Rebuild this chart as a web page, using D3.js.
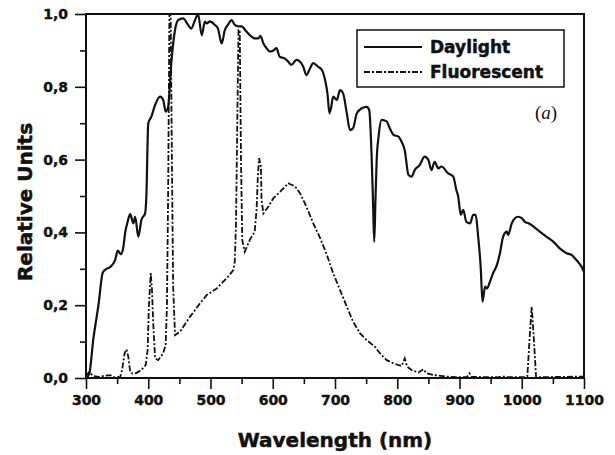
<!DOCTYPE html>
<html>
<head>
<meta charset="utf-8">
<script src="https://d3js.org/d3.v7.min.js"></script>
<style>
  body { margin: 0; background: #fff; }
  svg { display: block; }
  .axis text { font-family: "DejaVu Sans", sans-serif; font-weight: bold; font-size: 14px; fill: #111; stroke: #111; stroke-width: 0.4; }
  .axis line { stroke: #111; stroke-width: 1.6; }
  .heavy { font-family: "DejaVu Sans", sans-serif; font-weight: bold; fill: #111; stroke: #111; stroke-width: 0.5; }
</style>
</head>
<body>
<script>
// wavelength (nm) / relative units
var daylightNm = [300,305,312,320,327,333,339,347,351,356,360,363,367,371,376,379,384,389,395,397,
  400,405,411,419,424,428,432,437,443,448,456,464,469,475,480,486,491,494,499,507,
  512,518,523,528,534,539,545,550,558,566,571,577,580,585,590,595,601,606,611,619,
  625,630,638,644,649,654,660,665,673,679,684,688,691,694,697,703,708,713,719,724,
  729,735,743,751,755,759,761,763,765,767,770,775,783,788,794,802,807,812,818,823,
  828,836,844,850,855,860,866,871,882,890,895,898,902,906,911,917,922,926,930,934,
  937,941,944,949,954,960,965,970,976,978,984,989,994,1000,1005,1011,1019,1029,1040,1051,
  1061,1072,1080,1088,1096,1100];
var daylightVal = [0.00,0.01,0.11,0.20,0.29,0.30,0.305,0.325,0.35,0.34,0.36,0.40,0.43,0.45,0.425,0.443,0.388,0.434,0.453,0.50,
  0.70,0.718,0.75,0.773,0.764,0.732,0.745,0.865,0.956,0.983,0.988,0.97,0.96,0.983,1.0,0.942,0.979,0.974,0.98,0.97,
  0.96,0.919,0.956,0.97,0.983,0.97,0.966,0.966,0.951,0.938,0.933,0.933,0.94,0.919,0.906,0.897,0.90,0.906,0.883,0.878,
  0.869,0.86,0.874,0.869,0.855,0.832,0.851,0.865,0.855,0.846,0.819,0.78,0.727,0.745,0.773,0.764,0.791,0.782,0.727,0.681,
  0.686,0.727,0.741,0.745,0.736,0.60,0.489,0.374,0.49,0.60,0.663,0.709,0.705,0.686,0.668,0.663,0.649,0.626,0.558,0.553,
  0.571,0.585,0.608,0.599,0.571,0.594,0.576,0.581,0.562,0.553,0.516,0.498,0.448,0.462,0.429,0.425,0.448,0.448,0.388,0.306,
  0.21,0.251,0.246,0.265,0.288,0.31,0.343,0.388,0.402,0.393,0.425,0.439,0.443,0.439,0.429,0.425,0.416,0.402,0.388,0.374,
  0.356,0.343,0.338,0.324,0.306,0.292];

var fluorNm = [300,303,306,309,312,320,330,339,345,355,358,362,365,368,371,375,380,389,396,399,
  401,404,406,408,411,416,424,428,430,432,434,436,438,440,443,451,467,483,494,510,
  526,537,539,541,543,545,547,549,551,555,563,571,574,576,578,581,582,585,593,601,
  612,625,636,644,654,665,676,687,697,708,719,729,740,751,764,772,783,794,807,812,
  816,823,834,842,847,858,879,900,912,916,920,960,970,980,1005,1009,1013,1016,1019,1023,
  1060,1100];
var fluorVal = [0.005,0.013,0.017,0.01,0.005,0.003,0.006,0.008,0.002,0.003,0.022,0.068,0.079,0.058,0.017,0.012,0.013,0.022,0.036,0.077,
  0.196,0.288,0.242,0.15,0.054,0.049,0.068,0.091,0.196,0.516,1.0,1.0,0.6,0.25,0.118,0.127,0.168,0.205,0.228,0.246,
  0.274,0.297,0.32,0.425,0.7,0.956,0.956,0.6,0.379,0.347,0.379,0.402,0.462,0.55,0.604,0.58,0.489,0.452,0.471,0.494,
  0.512,0.535,0.526,0.507,0.471,0.425,0.385,0.338,0.288,0.242,0.196,0.155,0.123,0.104,0.086,0.068,0.049,0.04,0.033,0.054,
  0.031,0.022,0.015,0.024,0.013,0.008,0.004,0.002,0.003,0.013,0.003,0.002,0.004,0.002,0.002,0.005,0.12,0.196,0.12,0.002,
  0.003,0.004];

var xTicks = [300,400,500,600,700,800,900,1000,1100];
var yTicks = [0,0.2,0.4,0.6,0.8,1.0];
var seriesNames = ["Daylight", "Fluorescent"];

var w = 615, h = 455;
var plotLeft = 86, plotRight = 584, plotTop = 14, plotBottom = 378;

var svg = d3.select("body").append("svg")
  .attr("width", w)
  .attr("height", h);

var x = d3.scaleLinear().domain([300, 1100]).range([plotLeft, plotRight]);
var y = d3.scaleLinear().domain([0, 1]).range([plotBottom, plotTop]);

var comma = d3.formatLocale({decimal: ",", thousands: ".", grouping: [3], currency: ["", ""]}).format(".1f");

// minor ticks
svg.append("g").attr("class", "axis")
  .attr("transform", "translate(0," + plotBottom + ")")
  .call(d3.axisBottom(x).tickValues(d3.range(350, 1100, 100)).tickSize(6).tickFormat(""))
  .call(function(g){ g.select(".domain").remove(); });
svg.append("g").attr("class", "axis")
  .attr("transform", "translate(" + plotLeft + ",0)")
  .call(d3.axisLeft(y).tickValues([0.1,0.3,0.5,0.7,0.9]).tickSize(6).tickFormat(""))
  .call(function(g){ g.select(".domain").remove(); });

// major ticks
svg.append("g").attr("class", "axis")
  .attr("transform", "translate(0," + plotBottom + ")")
  .call(d3.axisBottom(x).tickValues(xTicks).tickSize(11).tickPadding(6).tickFormat(d3.format("d")))
  .call(function(g){ g.select(".domain").remove(); });
svg.append("g").attr("class", "axis")
  .attr("transform", "translate(" + plotLeft + ",0)")
  .call(d3.axisLeft(y).tickValues(yTicks).tickSize(11).tickPadding(7).tickFormat(comma))
  .call(function(g){ g.select(".domain").remove(); });

// frame
svg.append("rect")
  .attr("x", plotLeft).attr("y", plotTop)
  .attr("width", plotRight - plotLeft).attr("height", plotBottom - plotTop)
  .style("fill", "none")
  .style("stroke", "#111")
  .style("stroke-width", 2);

var line = d3.line()
  .x(function(d){ return x(d[0]); })
  .y(function(d){ return y(d[1]); });

var daylight = daylightNm.map(function(d, i){ return [d, daylightVal[i]]; });
var fluor = fluorNm.map(function(d, i){ return [d, fluorVal[i]]; });

svg.append("path")
  .datum(fluor)
  .attr("d", line)
  .style("fill", "none")
  .style("stroke", "#111")
  .style("stroke-width", 1.8)
  .style("stroke-dasharray", "6,2,2,2");

svg.append("path")
  .datum(daylight)
  .attr("d", line.curve(d3.curveMonotoneX))
  .style("fill", "none")
  .style("stroke", "#111")
  .style("stroke-width", 2.2)
  .style("stroke-linejoin", "round");

// legend
var legend = svg.append("g");
legend.append("rect")
  .attr("x", 357).attr("y", 30)
  .attr("width", 207).attr("height", 57)
  .style("fill", "#fff")
  .style("stroke", "#111")
  .style("stroke-width", 1.5);

legend.selectAll("line")
  .data(seriesNames)
  .enter()
  .append("line")
  .attr("x1", 364).attr("x2", 422)
  .attr("y1", function(d, i){ return 47 + i * 25; })
  .attr("y2", function(d, i){ return 47 + i * 25; })
  .style("stroke", "#111")
  .style("stroke-width", 1.8)
  .style("stroke-dasharray", function(d, i){ return i == 1 ? "6,2,2,2" : null; });

legend.selectAll("text")
  .data(seriesNames)
  .enter()
  .append("text")
  .attr("class", "heavy")
  .text(function(d){ return d; })
  .attr("x", 430)
  .attr("y", function(d, i){ return 53 + i * 25; })
  .style("font-size", "17px");

// panel label
var lab = svg.append("text")
  .attr("x", 546).attr("y", 119)
  .attr("text-anchor", "middle")
  .style("font-family", "Liberation Serif, serif")
  .style("font-size", "19px")
  .style("fill", "#111");
lab.append("tspan").text("(");
lab.append("tspan").style("font-style", "italic").text("a");
lab.append("tspan").text(")");

// axis titles
svg.append("text")
  .attr("class", "heavy")
  .attr("x", (plotLeft + plotRight) / 2)
  .attr("y", 447)
  .attr("text-anchor", "middle")
  .style("font-size", "20px")
  .text("Wavelength (nm)");

svg.append("text")
  .attr("class", "heavy")
  .attr("transform", "translate(32,202) rotate(-90)")
  .attr("text-anchor", "middle")
  .style("font-size", "20px")
  .text("Relative Units");
</script>
</body>
</html>
